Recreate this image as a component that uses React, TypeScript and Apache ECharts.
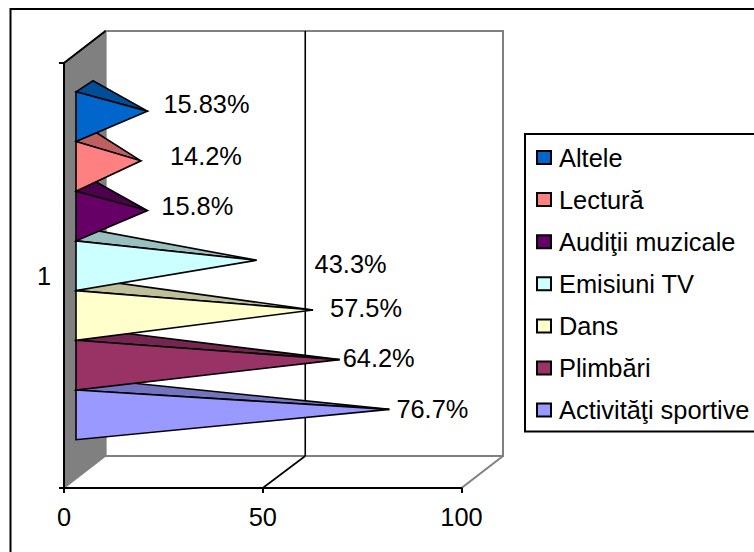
import React, { useEffect, useRef } from "react";
import * as echarts from "echarts";

const seriesNames = ["Activităţi sportive", "Plimbări", "Dans", "Emisiuni TV", "Audiţii muzicale", "Lectură", "Altele"];
const seriesValues = [76.7, 64.2, 57.5, 43.3, 15.8, 14.2, 15.83];
const valueLabels = ["76.7%", "64.2%", "57.5%", "43.3%", "15.8%", "14.2%", "15.83%"];
const frontColors = ["#9999FF", "#993366", "#FFFFCC", "#CCFFFF", "#660066", "#FF8080", "#0066CC"];
const topColors = ["#7373BF", "#732650", "#BFBF99", "#99BFBF", "#4D004D", "#BF6060", "#004D99"];
const categories = ["1"];
const xTicks = [50];
const labelDx = [7, 3, 17, 58, 14, 29, 16];
const labelDy = [0, -2, -2, 4, -5, -5, -7];

const FONT = "'Liberation Sans', Arial, sans-serif";
const FS = 25.4;
const DEPTH_X = 41.5;
const DEPTH_Y = -32;
const BAR_H = 49.7;
const GAP_X = 12;
const BAR_DX = 17;
const BAR_DY = -11;

export default function App() {
  const ref = useRef<HTMLDivElement | null>(null);
  useEffect(() => {
    document.body.style.margin = "0";
    const chart = echarts.init(ref.current!, null, { renderer: "svg" });
    const frameItem = (_: any, api: any) => {
      const o = api.coord([0, 0]);
      const m = api.coord([100, 0]);
      const size = api.size([0, 1]);
      const bottom = o[1] + size[1] / 2;
      const top = o[1] - size[1] / 2;
      const x0 = o[0];
      const x1 = m[0];
      const grey = { stroke: "#808080", lineWidth: 2 };
      const black = { stroke: "#000", lineWidth: 1.6 };
      const children: any[] = [
        { type: "polygon", shape: { points: [[x0 + DEPTH_X, top + DEPTH_Y], [x1 + DEPTH_X, top + DEPTH_Y], [x1 + DEPTH_X, bottom + DEPTH_Y], [x0 + DEPTH_X, bottom + DEPTH_Y]] }, style: { fill: "#fff", ...grey } },
        { type: "polygon", shape: { points: [[x0, top], [x0 + DEPTH_X, top + DEPTH_Y], [x0 + DEPTH_X, bottom + DEPTH_Y], [x0, bottom]] }, style: { fill: "#808080", stroke: "#808080", lineWidth: 1.5 } },
        { type: "line", shape: { x1: x1, y1: bottom, x2: x1 + DEPTH_X, y2: bottom + DEPTH_Y }, style: grey },
        { type: "line", shape: { x1: x0, y1: top, x2: x0 + DEPTH_X, y2: top + DEPTH_Y }, style: { stroke: "#000", lineWidth: 2 } },
      ];
      xTicks.forEach((t) => {
        const x = api.coord([t, 0])[0];
        children.push({ type: "line", shape: { x1: x, y1: bottom, x2: x + DEPTH_X + 1, y2: bottom + DEPTH_Y }, style: black });
        children.push({ type: "line", shape: { x1: x + DEPTH_X + 1, y1: bottom + DEPTH_Y, x2: x + DEPTH_X + 1, y2: top + DEPTH_Y }, style: black });
      });
      return { type: "group", children };
    };
    const pyramidItem = (i: number) => (_: any, api: any) => {
      const c = api.coord([0, 0]);
      const tip = api.coord([api.value(0), 0]);
      const yBottom = c[1] + DEPTH_Y * (GAP_X / DEPTH_X) + 3.5 * BAR_H - i * BAR_H - 0.5;
      const yTop = yBottom - BAR_H;
      const xFront = c[0] + GAP_X;
      const tipX = tip[0] + GAP_X + BAR_DX / 2;
      const tipY = (yTop + yBottom) / 2 + BAR_DY / 2;
      const line = { stroke: "#000", lineWidth: 1.6, lineJoin: "miter" };
      return {
        type: "group",
        children: [
          { type: "polygon", shape: { points: [[xFront, yTop], [xFront + BAR_DX, yTop + BAR_DY], [tipX, tipY]] }, style: { fill: topColors[i], ...line } },
          { type: "polygon", shape: { points: [[xFront, yTop], [xFront, yBottom], [tipX, tipY]] }, style: { fill: frontColors[i], ...line } },
          { type: "text", x: tipX + labelDx[i], y: tipY + labelDy[i], style: { text: valueLabels[i], fill: "#000", font: `${FS}px ${FONT}`, textAlign: "left", textVerticalAlign: "middle" } },
        ],
      };
    };
    chart.setOption({
      animation: false,
      backgroundColor: "#fff",
      textStyle: { fontFamily: FONT },
      grid: { left: 64, top: 63, width: 397.5, height: 425, containLabel: false },
      xAxis: {
        type: "value", min: 0, max: 100, interval: 50, z: 5,
        splitLine: { show: false },
        axisLine: { show: true, onZero: false, lineStyle: { color: "#000", width: 2 } },
        axisTick: { show: true, length: 5, lineStyle: { color: "#000", width: 2 } },
        axisLabel: { color: "#000", fontSize: FS, fontFamily: FONT, margin: 16 },
      },
      yAxis: {
        type: "category", data: categories, z: 5,
        axisLine: { show: true, lineStyle: { color: "#000", width: 2 } },
        axisTick: { show: true, length: 5, lineStyle: { color: "#000", width: 2 } },
        axisLabel: { color: "#000", fontSize: FS, fontFamily: FONT, margin: 13, padding: [2, 0, 0, 0] },
      },
      legend: {
        show: true, orient: "vertical", left: 525, top: 134,
        data: [...seriesNames].reverse(),
        icon: "rect", itemWidth: 14, itemHeight: 13, itemGap: 17.1,
        padding: [11, 60, 9, 11],
        borderColor: "#000", borderWidth: 2, backgroundColor: "#fff",
        selectedMode: false,
        textStyle: { color: "#000", fontSize: FS, fontFamily: FONT, padding: [0, 0, 0, 3] },
      },
      series: [
        { type: "custom", name: "frame", z: 1, coordinateSystem: "cartesian2d", renderItem: frameItem, data: [[0, 0]], encode: { x: 0, y: 1 }, silent: true },
        ...seriesNames.map((name, i) => ({
          type: "custom", name, z: 2 + i, coordinateSystem: "cartesian2d",
          renderItem: pyramidItem(i),
          data: [[seriesValues[i], 0]], encode: { x: 0, y: 1 },
          itemStyle: { color: frontColors[i], borderColor: "#000", borderWidth: 1.6 },
        })),
      ],
      graphic: [
        { type: "polyline", shape: { points: [[10.5, 552], [10.5, 9], [754, 9]] }, style: { stroke: "#000", lineWidth: 2, fill: "none" }, z: 10 },
      ],
    });
    return () => chart.dispose();
  }, []);
  return <div ref={ref} style={{ position: "absolute", left: 0, top: 0, width: 754, height: 552, overflow: "hidden" }} />;
}
